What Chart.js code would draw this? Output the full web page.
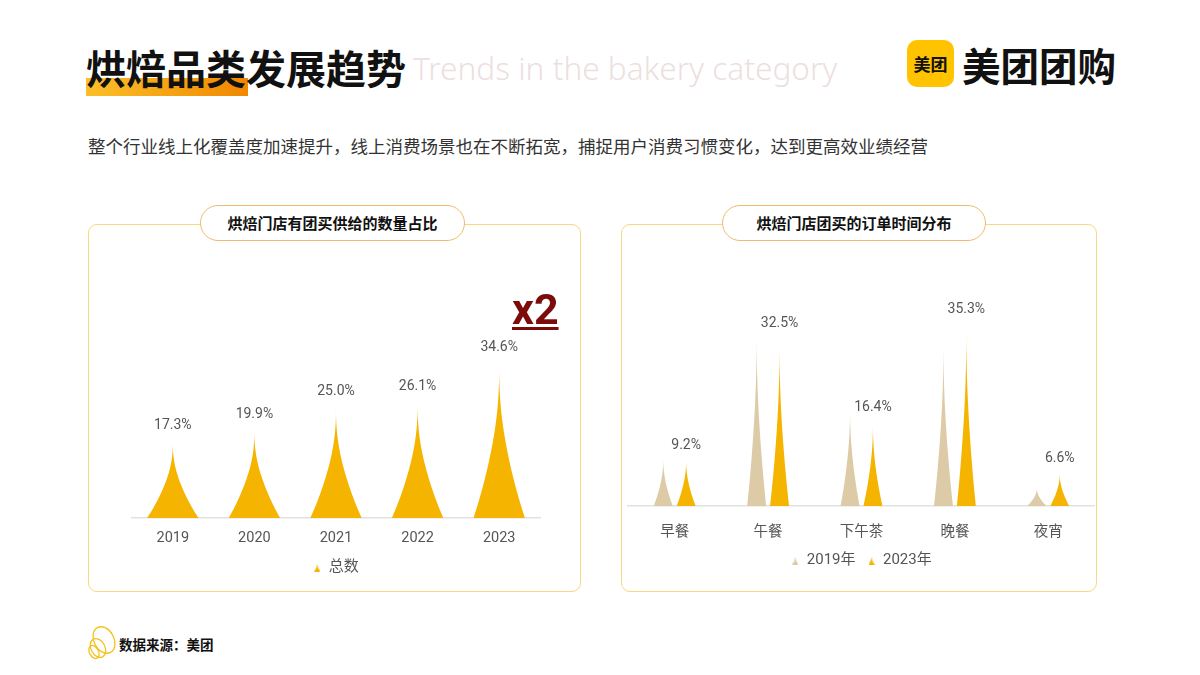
<!DOCTYPE html>
<html>
<head>
<meta charset="utf-8">
<script src="https://cdn.jsdelivr.net/npm/chart.js@4.4.1/dist/chart.umd.min.js"></script>
<style>
  body { margin: 0; background: #fff; }
  #page { position: relative; width: 1200px; height: 675px; overflow: hidden; background: #fff;
          font-family: Roboto, "Noto Sans CJK SC", sans-serif; }
  .abs { position: absolute; }
  #titleBar { left: 86px; top: 78px; width: 162px; height: 18px;
              background: linear-gradient(to right, #fbbf2a, #f08800); }
  #title { left: 86px; top: 42px; font: 700 40px/50px "Noto Sans CJK SC", sans-serif; color: #111; white-space: nowrap; }
  #titleEn { left: 413px; top: 52px; font: 300 31.6px/31px "Noto Sans", sans-serif; color: #ecdfdf; white-space: nowrap; }
  #subtitle { left: 88px; top: 134px; font: 400 17.5px/24px "Noto Sans CJK SC", sans-serif; color: #333; white-space: nowrap; }
  #logoBox { left: 907px; top: 40px; width: 47px; height: 47px; border-radius: 10px; background: #ffc300;
             font: 700 17px/47px "Noto Sans CJK SC", sans-serif; color: #111; text-align: center; }
  #logoText { left: 962px; top: 39px; font: 700 38.5px/50px "Noto Sans CJK SC", sans-serif; color: #111; white-space: nowrap; }
  .card { top: 224px; height: 368px; border: 1.5px solid #f9d882; border-radius: 9px; box-sizing: border-box; }
  .pill { top: 205px; height: 36px; border: 1.5px solid #f0bb6c; border-radius: 18px; background: #fff;
          box-sizing: border-box; font: 700 15px/33px "Noto Sans CJK SC", sans-serif; color: #111; text-align: center; }
  #times2 { left: 512px; top: 285px; font: 700 43px/48px Roboto, sans-serif; color: #7c0b0b;
            text-decoration: underline; text-decoration-thickness: 3px; text-underline-offset: 3px; }
  #source { left: 119px; top: 634px; font: 700 13.5px/20px "Noto Sans CJK SC", sans-serif; color: #111; white-space: nowrap; }
</style>
</head>
<body>
<div id="page">
  <div id="titleBar" class="abs"></div>
  <div id="title" class="abs">烘焙品类发展趋势</div>
  <div id="titleEn" class="abs">Trends in the bakery category</div>
  <div id="logoBox" class="abs">美团</div>
  <div id="logoText" class="abs">美团团购</div>
  <div id="subtitle" class="abs">整个行业线上化覆盖度加速提升，线上消费场景也在不断拓宽，捕捉用户消费习惯变化，达到更高效业绩经营</div>

  <div class="abs card" style="left:88px; width:493px;"></div>
  <div class="abs card" style="left:621px; width:476px;"></div>
  <div class="abs pill" style="left:200px; width:265px;">烘焙门店有团买供给的数量占比</div>
  <div class="abs pill" style="left:722px; width:264px;">烘焙门店团买的订单时间分布</div>

  <canvas id="shareChart" class="abs" width="490" height="340" style="left:88px; top:250px;"></canvas>
  <canvas id="timeChart" class="abs" width="473" height="340" style="left:622px; top:250px;"></canvas>
  <div id="times2" class="abs">x2</div>

  <svg class="abs" style="left:83px; top:624px;" width="38" height="38" viewBox="0 0 38 38">
    <g fill="none" stroke="#f3c21b" stroke-width="1.3">
      <ellipse cx="21" cy="16" rx="10" ry="14" transform="rotate(-28 21 16)"/>
      <ellipse cx="15" cy="24" rx="7" ry="10" transform="rotate(-28 15 24)"/>
      <ellipse cx="11" cy="28" rx="4.5" ry="7" transform="rotate(-28 11 28)"/>
    </g>
  </svg>
  <div id="source" class="abs">数据来源：美团</div>
</div>

<script>
// Left chart: share of bakeries with group-buy offers
const years = ['2019', '2020', '2021', '2022', '2023'];
const shareValues = [17.3, 19.9, 25.0, 26.1, 34.6];

// Right chart: order time distribution
const mealSlots = ['早餐', '午餐', '下午茶', '晚餐', '夜宵'];
const orders2019 = [9.5, 34.6, 19.5, 32.8, 3.6];
const orders2023 = [9.2, 32.5, 16.4, 35.3, 6.6];

const GOLD = '#f5b400';
const BEIGE = '#dccba6';
const FONT = 'Roboto, "Noto Sans CJK SC", sans-serif';

// needle-like spike: concave sides, hair-thin near the tip
function spikePath(ctx, cx, top, base, w) {
  const h = base - top;
  const steps = 40;
  ctx.beginPath();
  ctx.moveTo(cx - w / 2, base);
  for (let i = 1; i <= steps; i++) {
    const f = i / steps;
    const hw = (1 - f) * (1 - f) * (1 - Math.pow(f, 4));
    ctx.lineTo(cx - hw * w / 2, base - f * h);
  }
  for (let i = steps - 1; i >= 0; i--) {
    const f = i / steps;
    const hw = (1 - f) * (1 - f) * (1 - Math.pow(f, 4));
    ctx.lineTo(cx + hw * w / 2, base - f * h);
  }
  ctx.closePath();
}

function spikeIcon(color) {
  const c = document.createElement('canvas');
  c.width = 6;
  c.height = 8;
  const ctx = c.getContext('2d');
  ctx.fillStyle = color;
  ctx.beginPath();
  ctx.moveTo(0, 8);
  ctx.quadraticCurveTo(3, 4, 3, 0);
  ctx.quadraticCurveTo(3, 4, 6, 8);
  ctx.closePath();
  ctx.fill();
  return c;
}

const spikePlugin = {
  id: 'spikes',
  afterLayout(chart) {
    // tick labels are clipped to the axis box; let them run below it
    chart.scales.x.bottom = chart.height;
  },
  beforeDatasetDraw(chart, args) {
    const ds = chart.data.datasets[args.index];
    const ctx = chart.ctx;
    ctx.save();
    ctx.fillStyle = ds.backgroundColor;
    args.meta.data.forEach(bar => {
      spikePath(ctx, bar.x, bar.y, bar.base, bar.width);
      ctx.fill();
    });
    ctx.restore();
    return false;
  },
  afterDatasetsDraw(chart, args, opts) {
    const ctx = chart.ctx;
    ctx.save();
    ctx.font = '14px ' + FONT;
    ctx.fillStyle = '#555';
    ctx.textAlign = 'center';
    ctx.textBaseline = 'middle';
    chart.data.datasets.forEach((ds, i) => {
      if (!ds.showValue) return;
      chart.getDatasetMeta(i).data.forEach((bar, j) => {
        ctx.fillText(ds.data[j].toFixed(1) + '%', bar.x, bar.y - opts.offset);
      });
    });
    ctx.restore();
  }
};

function legendLabels(chart) {
  const items = Chart.defaults.plugins.legend.labels.generateLabels(chart);
  items.forEach(it => {
    it.pointStyle = spikeIcon(chart.data.datasets[it.datasetIndex].backgroundColor);
    it.fontColor = '#555';
  });
  return items;
}

function baseOptions(yMax, pad, tickPad, axisHeight, offset) {
  return {
    responsive: false,
    animation: false,
    layout: { padding: pad },
    scales: {
      x: {
        grid: { display: false, drawTicks: false },
        border: { display: true, color: '#e2e2e2', width: 1.5 },
        ticks: { color: '#555', font: { family: FONT, size: 14.5 }, padding: tickPad },
        afterFit: scale => { scale.height = axisHeight; }
      },
      y: { display: false, min: 0, max: yMax }
    },
    plugins: {
      tooltip: { enabled: false },
      spikes: { offset: offset },
      legend: {
        position: 'bottom',
        labels: {
          usePointStyle: true,
          boxWidth: 8,
          boxHeight: 8,
          padding: 12,
          color: '#555',
          font: { family: FONT, size: 15 },
          generateLabels: legendLabels
        }
      }
    }
  };
}

new Chart(document.getElementById('shareChart'), {
  type: 'bar',
  data: {
    labels: years,
    datasets: [{
      label: '总数',
      data: shareValues,
      backgroundColor: GOLD,
      showValue: true,
      categoryPercentage: 0.63,
      barPercentage: 1
    }]
  },
  options: baseOptions(50, { left: 44, right: 38, top: 42.5, bottom: 5 }, 12, 30, 14),
  plugins: [spikePlugin]
});

new Chart(document.getElementById('timeChart'), {
  type: 'bar',
  data: {
    labels: mealSlots,
    datasets: [
      {
        label: '2019年',
        data: orders2019,
        backgroundColor: BEIGE,
        categoryPercentage: 0.49,
        barPercentage: 0.83
      },
      {
        label: '2023年',
        data: orders2023,
        backgroundColor: GOLD,
        showValue: true,
        categoryPercentage: 0.49,
        barPercentage: 0.83
      }
    ]
  },
  options: baseOptions(45, { left: 6, right: 0, top: 21.5, bottom: 12 }, 18, 35, 13),
  plugins: [spikePlugin]
});
</script>
</body>
</html>
